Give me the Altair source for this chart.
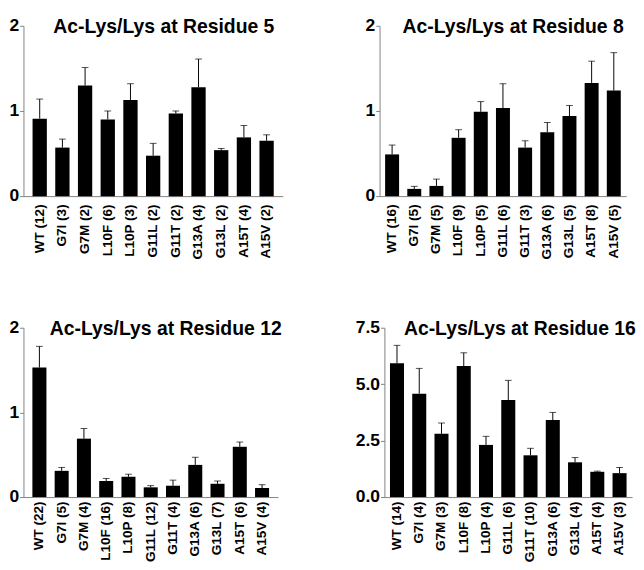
import altair as alt
import pandas as pd

labels5 = ["WT (12)", "G7I (3)", "G7M (2)", "L10F (6)", "L10P (3)", "G11L (2)",
           "G11T (2)", "G13A (4)", "G13L (2)", "A15T (4)", "A15V (2)"]
means5 = [0.91, 0.57, 1.30, 0.90, 1.13, 0.475, 0.97, 1.28, 0.54, 0.69, 0.65]
errs5 = [0.23, 0.10, 0.21, 0.10, 0.19, 0.145, 0.03, 0.33, 0.02, 0.14, 0.07]

labels8 = ["WT (16)", "G7I (5)", "G7M (5)", "L10F (9)", "L10P (5)", "G11L (6)",
           "G11T (3)", "G13A (6)", "G13L (5)", "A15T (8)", "A15V (5)"]
means8 = [0.49, 0.085, 0.12, 0.685, 0.99, 1.035, 0.57, 0.75, 0.94, 1.33, 1.24]
errs8 = [0.11, 0.03, 0.08, 0.095, 0.12, 0.285, 0.08, 0.115, 0.125, 0.255, 0.445]

labels12 = ["WT (22)", "G7I (5)", "G7M (4)", "L10F (16)", "L10P (8)", "G11L (12)",
            "G11T (4)", "G13A (6)", "G13L (7)", "A15T (6)", "A15V (4)"]
means12 = [1.53, 0.31, 0.69, 0.19, 0.24, 0.115, 0.134, 0.38, 0.157, 0.594, 0.107]
errs12 = [0.25, 0.04, 0.12, 0.03, 0.03, 0.02, 0.066, 0.09, 0.033, 0.056, 0.039]

labels16 = ["WT (14)", "G7I (4)", "G7M (3)", "L10F (8)", "L10P (4)", "G11L (6)",
            "G11T (10)", "G13A (6)", "G13L (4)", "A15T (4)", "A15V (3)"]
means16 = [5.93, 4.58, 2.80, 5.80, 2.31, 4.30, 1.85, 3.41, 1.54, 1.12, 1.06]
errs16 = [0.79, 1.12, 0.48, 0.59, 0.38, 0.87, 0.31, 0.34, 0.21, 0.03, 0.25]

FONT = "Liberation Sans"


def panel(title, labels, means, errs, ymax, yvals, fmt, width, height,
          title_x, xpad, xfont, pad_outer):
    df = pd.DataFrame({"label": labels, "mean": means, "err": errs})
    df["upper"] = df["mean"] + df["err"]
    xaxis = alt.Axis(labelAngle=270, ticks=False, labelPadding=xpad,
                     labelFontSize=xfont, labelFontWeight="bold",
                     labelFont=FONT, labelColor="black", title=None)
    yaxis = alt.Axis(values=yvals, format=fmt, labelFontSize=18,
                     labelFontWeight="bold", labelFont=FONT,
                     labelColor="black", labelOverlap=False,
                     tickSize=4, labelPadding=1, title=None)
    xscale = alt.Scale(paddingInner=0.37, paddingOuter=pad_outer)
    yscale = alt.Scale(domain=[0, ymax], nice=False)
    x = alt.X("label:N", sort=labels, scale=xscale, axis=xaxis)
    base = alt.Chart(df)
    bars = base.mark_bar(color="black").encode(
        x=x, y=alt.Y("mean:Q", scale=yscale, axis=yaxis))
    rule = base.mark_rule(color="black", strokeWidth=1).encode(
        x=x, y=alt.Y("mean:Q", scale=yscale, axis=yaxis), y2="upper:Q")
    cap = base.mark_tick(color="black", thickness=1, size=7).encode(
        x=x, y=alt.Y("upper:Q", scale=yscale, axis=yaxis))
    ttl = alt.Chart(pd.DataFrame({"t": [title]})).mark_text(
        font=FONT, fontSize=20, fontWeight="bold", color="black",
        align="center", baseline="middle"
    ).encode(text="t:N", x=alt.value(title_x), y=alt.value(1))
    return alt.layer(bars, rule, cap, ttl).properties(width=width, height=height)


p1 = panel("Ac-Lys/Lys at Residue 5", labels5, means5, errs5, 2, [0.0, 1.0, 2.0], ".0f",
           268, 176, 145, 8, 14, 0.4)
p2 = panel("Ac-Lys/Lys at Residue 8", labels8, means8, errs8, 2, [0.0, 1.0, 2.0], ".0f",
           255, 176, 138, 8, 14, 0.25)
p3 = panel("Ac-Lys/Lys at Residue 12", labels12, means12, errs12, 2, [0.0, 1.0, 2.0], ".0f",
           263, 175, 147, 4, 14, 0.4)
p4 = panel("Ac-Lys/Lys at Residue 16", labels16, means16, errs16, 7.5, [0, 2.5, 5, 7.5], ".1f",
           256, 175, 140, 4, 14, 0.25)

top = alt.hconcat(p1, p2, spacing=84).resolve_scale(x="independent", y="independent")
bottom = alt.hconcat(p3, p4, spacing=75).resolve_scale(x="independent", y="independent")

chart = alt.vconcat(top, bottom, spacing=61).resolve_scale(
    x="independent", y="independent"
).properties(
    padding={"left": 0, "top": 0, "right": 0, "bottom": 0}
).configure_axis(
    domainColor="#808080", tickColor="#808080", grid=False
).configure_view(strokeWidth=0)

chart.save("out.html", embed_options={"renderer": "svg", "actions": False})
